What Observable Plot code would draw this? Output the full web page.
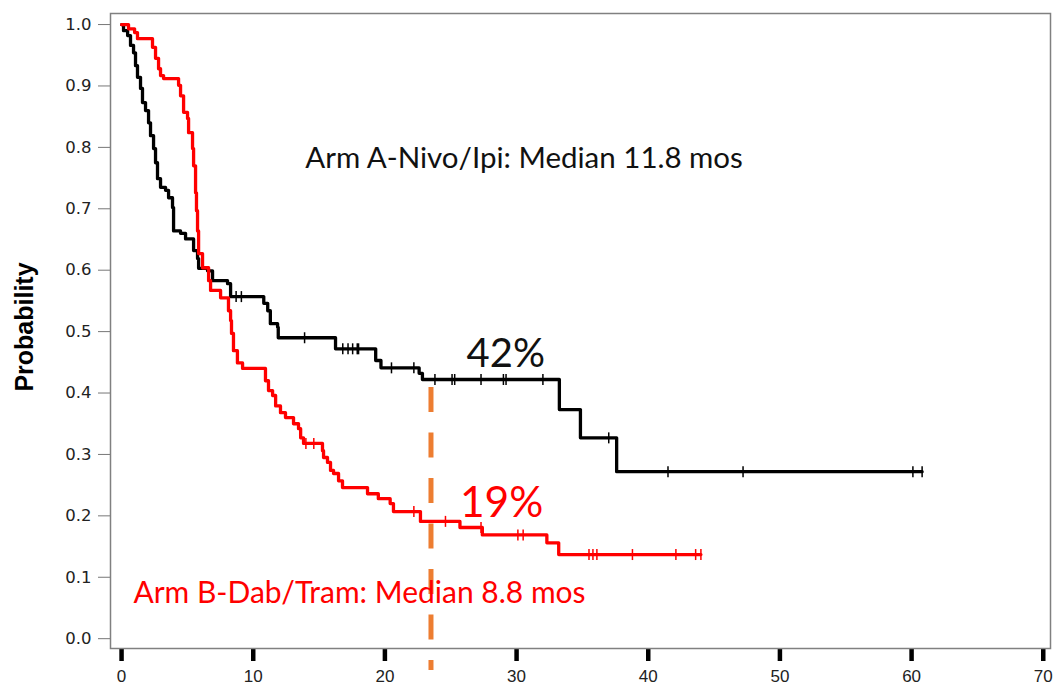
<!DOCTYPE html>
<html><head><meta charset="utf-8">
<script src="https://cdn.jsdelivr.net/npm/d3@7"></script>
<script src="https://cdn.jsdelivr.net/npm/@observablehq/plot@0.6"></script>
<style>
html,body{margin:0;padding:0;background:#fff;}
</style></head>
<body><div id="chart"></div>
<script>
// ---- Data ----
const armA_time = [0, 0.15, 0.46, 0.68, 0.91, 1.06, 1.21, 1.44, 1.59, 1.82, 2.05, 2.20, 2.43, 2.58, 2.73, 2.96, 3.34, 3.57, 3.87, 3.95, 4.48, 4.86, 5.47, 5.77, 5.85, 6.53, 6.91, 8.05, 8.28, 10.8, 11.1, 11.3, 11.85, 11.9, 16.25, 19.3, 19.7, 22.6, 22.85, 33.25, 34.85, 37.6];
const armA_surv = [1.0, 0.990, 0.982, 0.966, 0.954, 0.933, 0.914, 0.896, 0.873, 0.860, 0.840, 0.819, 0.798, 0.775, 0.749, 0.735, 0.730, 0.718, 0.702, 0.664, 0.660, 0.651, 0.632, 0.619, 0.603, 0.599, 0.583, 0.578, 0.557, 0.546, 0.534, 0.513, 0.507, 0.490, 0.472, 0.453, 0.441, 0.432, 0.422, 0.373, 0.327, 0.272];
const armA_censor = [8.7, 9.1, 13.9, 16.8, 17.2, 17.55, 17.9, 18.0, 20.5, 22.2, 23.8, 25.1, 25.3, 27.3, 29.0, 29.2, 32.0, 37.0, 41.5, 47.2, 60.1, 60.8];

const armB_time = [0, 0.53, 0.99, 1.21, 2.35, 2.58, 2.81, 2.96, 3.19, 4.33, 4.48, 4.71, 5.01, 5.09, 5.39, 5.47, 5.62, 5.69, 5.77, 5.85, 6.15, 6.61, 6.76, 7.52, 8.12, 8.28, 8.35, 8.5, 8.8, 9.19, 10.93, 11.16, 11.47, 11.7, 12.07, 12.45, 13.06, 13.44, 13.6, 13.82, 15.26, 15.34, 15.64, 15.87, 16.1, 16.48, 16.78, 18.68, 19.5, 20.4, 20.65, 22.7, 25.7, 27.4, 32.3, 33.2];
const armB_surv = [1.0, 0.993, 0.987, 0.977, 0.963, 0.945, 0.928, 0.917, 0.912, 0.901, 0.884, 0.857, 0.847, 0.824, 0.798, 0.770, 0.726, 0.697, 0.664, 0.627, 0.604, 0.583, 0.567, 0.555, 0.534, 0.518, 0.497, 0.469, 0.449, 0.440, 0.420, 0.404, 0.396, 0.379, 0.368, 0.360, 0.350, 0.342, 0.327, 0.318, 0.306, 0.295, 0.287, 0.274, 0.269, 0.257, 0.246, 0.236, 0.228, 0.220, 0.207, 0.191, 0.181, 0.169, 0.156, 0.137];
const armB_censor = [14.0, 14.6, 22.2, 24.6, 27.3, 30.1, 30.5, 35.5, 35.8, 36.1, 38.8, 42.1, 43.6, 44.0];

const xTicks = [0, 10, 20, 30, 40, 50, 60, 70];
const yTicks = [0, 0.1, 0.2, 0.3, 0.4, 0.5, 0.6, 0.7, 0.8, 0.9, 1.0];
const yLabel = "Probability";

// vertical reference at the 2-year mark (months, top, bottom)
const refLine = [{x: 23.5, y1: 0.409, y2: -0.052}];

const annotations = [
  {text: "Arm A-Nivo/Ipi: Median 11.8 mos", x: 13.95, y: 0.782, color: "#111", size: 29.5},
  {text: "42%", x: 26.2, y: 0.463, color: "#111", size: 40},
  {text: "19%", x: 25.7, y: 0.221, color: "#f00", size: 42.5},
  {text: "Arm B-Dab/Tram: Median 8.8 mos", x: 0.9, y: 0.073, color: "#f00", size: 30}
];

// ---- Build tables ----
function curve(times, surv, censor) {
  const pts = times.map((t, i) => ({t, s: surv[i]}));
  const end = Math.max(d3.max(censor), d3.max(times));
  pts.push({t: end, s: surv[surv.length - 1]});
  return pts;
}
function censorPts(times, surv, censor) {
  return censor.map(c => {
    let s = surv[0];
    for (let i = 0; i < times.length; i++) if (times[i] <= c) s = surv[i];
    return {t: c, s};
  });
}
const lineA = curve(armA_time, armA_surv, armA_censor);
const lineB = curve(armB_time, armB_surv, armB_censor);
const censA = censorPts(armA_time, armA_surv, armA_censor);
const censB = censorPts(armB_time, armB_surv, armB_censor);

const tickSymbol = {
  draw(context, size) {
    const h = Math.sqrt(size / Math.PI);
    context.moveTo(0, -h);
    context.lineTo(0, h);
  }
};

const fontAnn = "Lato, 'Open Sans', 'Liberation Sans', sans-serif";

const chart = Plot.plot({
  width: 1053,
  height: 691,
  marginLeft: 110,
  marginRight: 3,
  marginTop: 13,
  marginBottom: 43,
  style: {background: "#fff", fontFamily: "'Liberation Sans', Arial, sans-serif"},
  x: {domain: [-0.84, 70.55]},
  y: {domain: [-0.016, 1.018]},
  marks: [
    Plot.axisY(yTicks, {tickSize: 12, tickPadding: 7, tickFormat: d3.format(".1f"), stroke: "#777", fill: "#222",
      fontSize: 16.5, fontFamily: "'DejaVu Sans', Verdana, sans-serif", label: null}),
    Plot.axisX(xTicks, {tickSize: 13, strokeWidth: 4.5, insetTop: 2, stroke: "#000", tickPadding: 8, fill: "#222",
      fontSize: 17, fontFamily: "'Liberation Sans Narrow', 'Arial Narrow', 'Liberation Sans', sans-serif", label: null}),
    Plot.text([yLabel], {frameAnchor: "left", textAnchor: "middle", rotate: -90, dx: -86, dy: -4, fontSize: 25, fontWeight: "bold",
      fontFamily: "'Liberation Sans Narrow', 'Liberation Sans', Arial, sans-serif", fill: "#000"}),
    Plot.ruleX(refLine, {x: "x", y1: "y1", y2: "y2", stroke: "#ED7D31", strokeWidth: 5, strokeDasharray: "25,20.5"}),
    Plot.line(lineA, {x: "t", y: "s", curve: "step-after", stroke: "#000", strokeWidth: 3.3}),
    Plot.dot(censA, {x: "t", y: "s", r: 5.5, symbol: tickSymbol, stroke: "#000", strokeWidth: 1.5, fill: "none"}),
    Plot.line(lineB, {x: "t", y: "s", curve: "step-after", stroke: "#f00", strokeWidth: 3.3}),
    Plot.dot(censB, {x: "t", y: "s", r: 5.5, symbol: tickSymbol, stroke: "#f00", strokeWidth: 1.5, fill: "none"}),
    ...annotations.map(a => Plot.text([a], {x: "x", y: "y", text: "text", fill: a.color, fontSize: a.size,
      textAnchor: "start", fontFamily: fontAnn})),
    Plot.frame({stroke: "#808080", strokeWidth: 1.5})
  ]
});
document.getElementById("chart").appendChild(chart);
</script>
</body></html>
